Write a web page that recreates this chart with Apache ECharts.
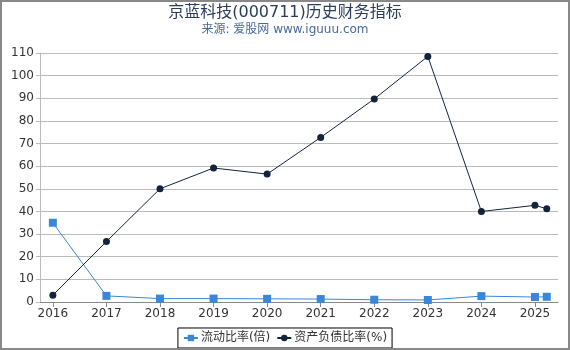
<!DOCTYPE html>
<html>
<head>
<meta charset="utf-8">
<script src="https://cdn.jsdelivr.net/npm/echarts@6/dist/echarts.min.js"></script>
<style>
  html, body { margin: 0; padding: 0; }
  #chart { width: 566px; height: 346px; border: 2px solid #888; }
</style>
</head>
<body>
<div id="chart"></div>
<script>
// report dates as fractional years (last point is 2025 Q1)
const periods = [2016, 2017, 2018, 2019, 2020, 2021, 2022, 2023, 2024, 2025, 2025.22];
const yearTicks = [2016, 2017, 2018, 2019, 2020, 2021, 2022, 2023, 2024, 2025];
const currentRatio = [35.0, 2.7, 1.5, 1.5, 1.4, 1.3, 1.0, 0.9, 2.6, 2.2, 2.3];
const debtRatio = [3.0, 26.7, 50.0, 59.2, 56.5, 72.7, 89.7, 108.5, 40.0, 42.7, 41.2];

const font = 'DejaVu Sans, Noto Sans CJK SC, sans-serif';
const chart = echarts.init(document.getElementById('chart'));

const pairs = vals => periods.map((p, i) => [p, vals[i]]);

chart.setOption({
  animation: false,
  title: {
    text: '京蓝科技(000711)历史财务指标',
    subtext: '来源: 爱股网 www.iguuu.com',
    left: 'center',
    top: -2,
    itemGap: 3,
    textStyle: { fontSize: 16, fontWeight: 'normal', color: '#2b3d5b', fontFamily: font },
    subtextStyle: { fontSize: 12, color: '#4a6a98', fontFamily: font }
  },
  legend: {
    bottom: 0,
    left: 'center',
    borderColor: '#000',
    borderWidth: 1,
    borderRadius: 0,
    padding: [4, 5],
    itemWidth: 14,
    itemHeight: 8,
    itemGap: 6,
    textStyle: { fontSize: 12, color: '#333', fontFamily: font, padding: [0, 0, 0, -2] },
    data: ['流动比率(倍)', '资产负债比率(%)']
  },
  grid: { left: 38, right: 10, top: 51, bottom: 46 },
  xAxis: {
    type: 'value',
    min: 2015.76,
    max: 2025.43,
    splitLine: { show: false },
    axisLine: { lineStyle: { color: '#888' } },
    axisTick: { customValues: yearTicks, lineStyle: { color: '#888' } },
    axisLabel: {
      customValues: yearTicks,
      color: '#333',
      fontSize: 12,
      fontFamily: font,
      margin: 6,
      formatter: v => String(Math.round(v))
    }
  },
  yAxis: {
    type: 'value',
    min: 0,
    max: 110,
    interval: 10,
    axisLine: { show: true, lineStyle: { color: '#bbb' } },
    axisTick: { show: true, length: 4, lineStyle: { color: '#bbb' } },
    splitLine: { lineStyle: { color: '#bbb' } },
    axisLabel: { color: '#333', fontSize: 12, fontFamily: font, margin: 6 }
  },
  series: [
    {
      name: '流动比率(倍)',
      type: 'line',
      data: pairs(currentRatio),
      symbol: 'rect',
      symbolSize: 8,
      itemStyle: { color: '#3a86d8' },
      lineStyle: { width: 1, color: '#3a86d8' }
    },
    {
      name: '资产负债比率(%)',
      type: 'line',
      data: pairs(debtRatio),
      symbol: 'circle',
      symbolSize: 7,
      itemStyle: { color: '#13233b' },
      lineStyle: { width: 1, color: '#13233b' }
    }
  ]
});
</script>
</body>
</html>
